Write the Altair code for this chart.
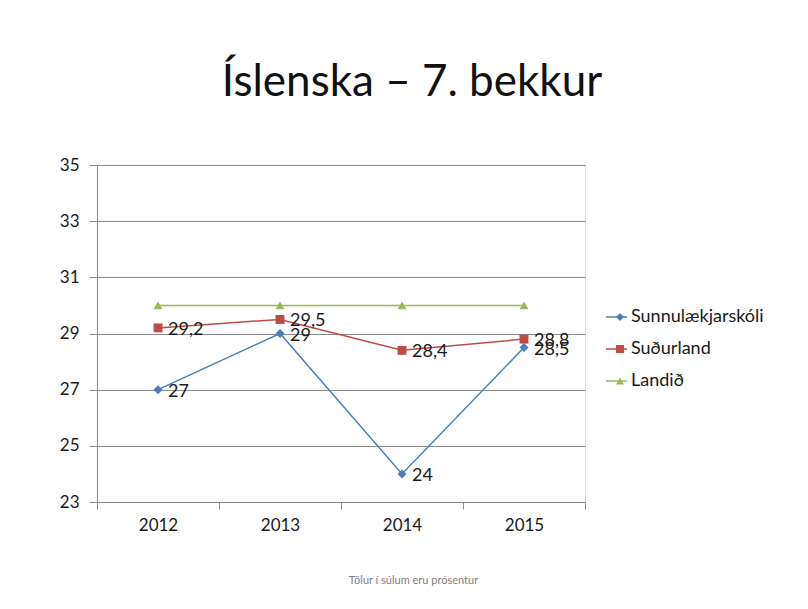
import altair as alt
import pandas as pd

years = ["2012", "2013", "2014", "2015"]
series_names = ["Sunnulækjarskóli", "Suðurland", "Landið"]
sunnu = [27, 29, 24, 28.5]
sudur = [29.2, 29.5, 28.4, 28.8]
landid = [30, 30, 30, 30]
labelled = [True, True, False]
colors = ["#4A7EBB", "#BE4B48", "#98B954"]
shapes = ["diamond", "square", "triangle-up"]
y_ticks = [23, 25, 27, 29, 31, 33, 35]

marker_names = ["m:" + n for n in series_names]

rows = []
for name, mname, vals, lab in zip(series_names, marker_names, [sunnu, sudur, landid], labelled):
    for yr, v in zip(years, vals):
        rows.append({"year": yr, "value": v, "series": name, "series_m": mname, "lab": lab})
df = pd.DataFrame(rows)

FONT = "Lato"
TXT = "#1a1a1a"

x_enc = alt.X(
    "year:N",
    bandPosition=0.5,
    scale=alt.Scale(type="band", paddingInner=0, paddingOuter=0),
    axis=alt.Axis(
        title="Tölur í súlum eru prósentur",
        titleFont=FONT, titleFontSize=11, titleFontWeight="normal", titleColor="#808080",
        titleX=316, titleY=78, titleAlign="center", titleBaseline="middle", titleAnchor="start",
        labelAngle=0, labelFont=FONT, labelFontSize=17, labelColor=TXT, labelPadding=8,
        tickBand="extent", tickSize=7, tickColor="#888888", domainColor="#888888",
        grid=False,
    ),
)
y_enc = alt.Y(
    "value:Q",
    scale=alt.Scale(domain=[23, 35], nice=False, zero=False),
    axis=alt.Axis(
        title=None, values=y_ticks, labelFont=FONT, labelFontSize=17, labelColor=TXT,
        labelPadding=10, tickSize=8, tickColor="#888888", domainColor="#888888",
        gridColor="#8a8a8a", gridWidth=1,
    ),
)

color_scale = alt.Scale(domain=series_names, range=colors)
marker_color_scale = alt.Scale(domain=marker_names, range=colors)
shape_scale = alt.Scale(domain=marker_names, range=shapes)

base = alt.Chart(df).encode(x=x_enc, y=y_enc)

lines = base.mark_line(strokeWidth=1.5).encode(
    color=alt.Color(
        "series:N", scale=color_scale,
        legend=alt.Legend(
            title=None, orient="none", legendX=508, legendY=142, symbolType="stroke",
            symbolSize=441, symbolStrokeWidth=1.5, labelFont=FONT, labelFontSize=18,
            labelColor=TXT, labelOffset=3, clipHeight=20, rowPadding=12, padding=0,
        ),
    ),
    detail="series:N",
)

marker_legend = alt.Legend(
    title=None, orient="none", legendX=514, legendY=142, symbolSize=64,
    symbolStrokeWidth=0, labelFont=FONT, labelFontSize=18, labelExpr="''",
    labelOffset=3, clipHeight=20, rowPadding=12, padding=0,
)

points = base.mark_point(filled=True, opacity=1, strokeWidth=0, size=80).encode(
    fill=alt.Fill("series_m:N", scale=marker_color_scale, legend=marker_legend),
    shape=alt.Shape("series_m:N", scale=shape_scale, legend=marker_legend),
)

labels = base.transform_filter("datum.lab").transform_calculate(
    txt="replace(toString(datum.value), '.', ',')"
).mark_text(align="left", baseline="middle", dx=10, dy=2, font=FONT, fontSize=18, color=TXT).encode(
    text="txt:N"
)

chart = alt.layer(lines, points, labels).properties(
    width=488,
    height=337,
    title=alt.TitleParams(
        "Íslenska – 7. bekkur", font=FONT, fontSize=44, fontWeight="normal", color="#111111",
        anchor="middle", frame="group", dx=71, offset=16, baseline="alphabetic",
    ),
    autosize=alt.AutoSizeParams(type="none"),
    padding={"left": 89, "top": 157, "right": 215, "bottom": 100},
).configure_view(stroke=None).configure(background="white")

chart.save("out.html", embed_options={"renderer": "svg", "actions": False})
